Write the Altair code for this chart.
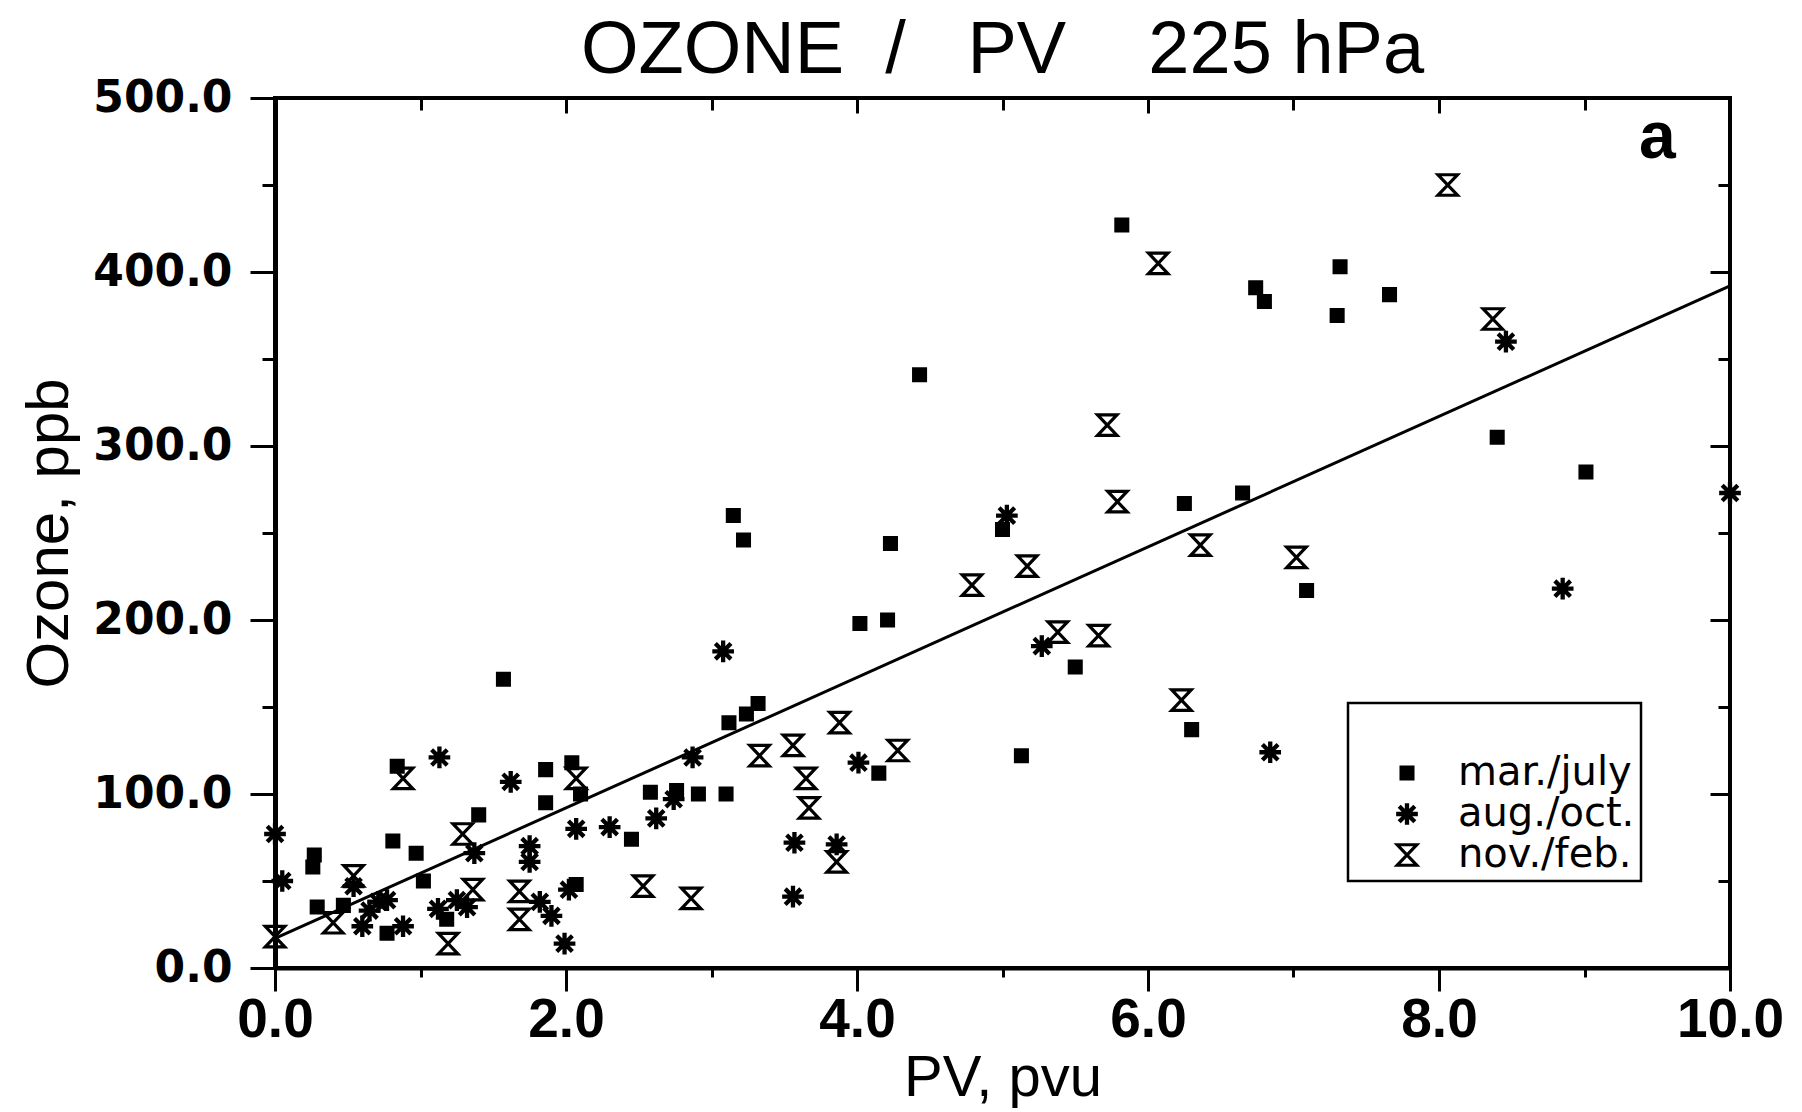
import altair as alt
import pandas as pd

# ---- data ----
seasons = ["mar./july", "aug./oct.", "nov./feb."]

mar_pv = [0.27, 0.26, 0.29, 0.47, 0.77, 0.81, 0.84, 0.97, 1.02, 1.18,
          1.40, 1.57, 1.86, 1.86, 2.04, 2.07, 2.10, 2.45, 2.58, 2.76,
          2.91, 3.10, 3.12, 3.24, 3.32, 3.15, 3.22, 4.02, 4.15, 4.21,
          4.23, 4.43, 5.00, 5.13, 5.50, 5.82, 6.25, 6.30, 6.65, 6.74,
          6.80, 7.09, 7.30, 7.32, 7.66, 8.40, 9.01]
mar_o3 = [65, 58, 35, 36, 20, 73, 116, 66, 50, 28,
          88, 166, 114, 95, 118, 48, 100, 74, 101, 102,
          100, 100, 141, 146, 152, 260, 246, 198, 112, 200,
          244, 341, 252, 122, 173, 427, 267, 137, 273, 391,
          383, 217, 375, 403, 387, 305, 285]

aug_pv = [0.0, 0.05, 0.54, 0.60, 0.65, 0.71, 0.77, 0.88, 1.12, 1.13,
          1.25, 1.32, 1.37, 1.62, 1.75, 1.75, 1.82, 1.90, 1.99, 2.02,
          2.07, 2.30, 2.62, 2.74, 2.87, 3.08, 3.56, 3.57, 3.86, 4.01,
          5.03, 5.27, 6.84, 8.46, 8.85, 10.0]
aug_o3 = [77, 50, 47, 24, 33, 38, 39, 24, 34, 121,
          39, 35, 66, 107, 70, 61, 38, 30, 14, 45,
          80, 81, 86, 97, 121, 182, 41, 72, 71, 118,
          260, 185, 124, 360, 218, 273]

nov_pv = [0.0, 0.40, 0.54, 0.88, 1.19, 1.29, 1.36, 1.68, 1.68, 2.07,
          2.53, 2.86, 3.33, 3.56, 3.65, 3.67, 3.86, 3.88, 4.28, 4.79,
          5.17, 5.38, 5.66, 5.72, 5.79, 6.07, 6.23, 6.36, 7.02, 8.06,
          8.37]
nov_o3 = [18, 26, 53, 109, 14, 77, 45, 44, 28, 109,
          47, 40, 122, 128, 109, 92, 61, 141, 125, 220,
          231, 193, 191, 312, 268, 405, 154, 243, 236, 450,
          373]

fit_pv = [0.0, 10.0]
fit_o3 = [17.0, 392.0]

panel_label = ["a"]
panel_pv = [9.5]
panel_o3 = [477]

x_ticks = list(range(0, 11))
y_ticks = list(range(0, 501, 50))

# ---- tables ----
rows = []
for name, xs, ys in [(seasons[0], mar_pv, mar_o3),
                     (seasons[1], aug_pv, aug_o3),
                     (seasons[2], nov_pv, nov_o3)]:
    for a, b in zip(xs, ys):
        rows.append({"pv": a, "ozone": b, "season": name})
df = pd.DataFrame(rows)
fit_df = pd.DataFrame({"pv": fit_pv, "ozone": fit_o3})
lab_df = pd.DataFrame({"pv": panel_pv, "ozone": panel_o3, "t": panel_label})

W, H = 1455, 870

asterisk = "M-1,0L1,0M0,-1L0,1M-0.72,-0.72L0.72,0.72M-0.72,0.72L0.72,-0.72"
hourglass = "M-0.95,-1L0.95,-1L-0.95,1L0.95,1Z"

xscale = alt.Scale(domain=[0, 10], nice=False, zero=False)
yscale = alt.Scale(domain=[0, 500], nice=False, zero=False)

legend = alt.Legend(
    title=" ", orient="none", legendX=1073, legendY=605,
    strokeColor="black", fillColor="white", padding=6, cornerRadius=0,
    labelFont="DejaVu Sans", labelFontSize=40, labelColor="black", labelLimit=500,
    symbolStrokeColor="black", symbolOffset=33,
    labelOffset=31, rowPadding=1, titleFontSize=26, titlePadding=18,
)

x_main = alt.Axis(
    values=x_ticks,
    labelExpr="datum.value % 2 === 0 ? format(datum.value, '.1f') : ''",
    tickSize={"condition": {"test": "datum.value % 2 === 0", "value": 23}, "value": 9},
    tickWidth=3, tickColor="black", domainColor="black", domainWidth=4,
    labelFont="Liberation Sans", labelFontSize=55, labelFontWeight="bold",
    labelColor="black", labelPadding=2, labelFlush=False, grid=False,
    title="PV, pvu", titleFont="Liberation Sans", titleFontSize=58,
    titleFontWeight="normal", titleColor="black", titlePadding=2,
)
y_main = alt.Axis(
    values=y_ticks,
    labelExpr="datum.value % 100 === 0 ? format(datum.value, '.1f') : ''",
    tickSize={"condition": {"test": "datum.value % 100 === 0", "value": 25}, "value": 13},
    tickWidth=3, tickColor="black", domainColor="black", domainWidth=5,
    labelFont="DejaVu Sans", labelFontSize=44, labelFontWeight="bold",
    labelColor="black", labelPadding=18, labelFlush=False, grid=False,
    title="Ozone, ppb", titleFont="Liberation Sans", titleFontSize=60,
    titleFontWeight="normal", titleColor="black", titlePadding=12,
)

points = alt.Chart(df).mark_point(opacity=1, clip=False).encode(
    x=alt.X("pv:Q", scale=xscale, axis=x_main),
    y=alt.Y("ozone:Q", scale=yscale, axis=y_main),
    shape=alt.Shape("season:N", scale=alt.Scale(domain=seasons, range=["square", asterisk, hourglass]), legend=legend),
    fill=alt.Fill("season:N", scale=alt.Scale(domain=seasons, range=["black", "black", "transparent"]), legend=legend),
    stroke=alt.Stroke("season:N", scale=alt.Scale(domain=seasons, range=["black", "black", "black"]), legend=legend),
    strokeWidth=alt.StrokeWidth("season:N", scale=alt.Scale(type="ordinal", domain=seasons, range=[2, 4.3, 3.2]), legend=legend),
    size=alt.Size("season:N", scale=alt.Scale(type="ordinal", domain=seasons, range=[170, 470, 420]), legend=legend),
)

fit = alt.Chart(fit_df).mark_line(color="black", strokeWidth=3).encode(
    x=alt.X("pv:Q", scale=xscale, axis=None),
    y=alt.Y("ozone:Q", scale=yscale, axis=None),
)

label = alt.Chart(lab_df).mark_text(
    font="Liberation Sans", fontWeight="bold", fontSize=66, color="black",
    align="center", baseline="middle"
).encode(
    x=alt.X("pv:Q", scale=xscale, axis=None),
    y=alt.Y("ozone:Q", scale=yscale, axis=None),
    text="t:N",
)

mirror = alt.Chart(fit_df).mark_line(opacity=0).encode(
    x=alt.X("pv:Q", scale=xscale, axis=alt.Axis(
        orient="bottom", offset=-H, values=x_ticks, labels=False, domain=False,
        tickSize={"condition": {"test": "datum.value % 2 === 0", "value": 15}, "value": 12},
        tickWidth=3, tickColor="black", grid=False, title="")),
    y=alt.Y("ozone:Q", scale=yscale, axis=alt.Axis(
        orient="left", offset=-W, values=y_ticks, labels=False, domain=False,
        tickSize={"condition": {"test": "datum.value % 100 === 0", "value": 20}, "value": 12},
        tickWidth=3, tickColor="black", grid=False, title="")),
)

chart = alt.layer(points, fit, label, mirror).resolve_axis(
    x="independent", y="independent"
).properties(
    width=W, height=H,
    title=alt.TitleParams(
        text="OZONE\u00a0\u00a0/\u00a0\u00a0\u00a0PV\u00a0\u00a0\u00a0\u00a0225\u00a0hPa",
        font="Liberation Sans", fontSize=74, fontWeight="normal", color="black",
        anchor="middle", frame="group", baseline="alphabetic", offset=0, dy=71,
    ),
    autosize=alt.AutoSizeParams(type="none"),
    padding={"left": 275, "top": 98, "right": 72, "bottom": 144},
    background="white",
).configure_view(
    stroke="black", strokeWidth=4
).configure_legend(
    strokeWidth=2.5
)

chart.save("out.html", embed_options={"renderer": "svg", "actions": False})
